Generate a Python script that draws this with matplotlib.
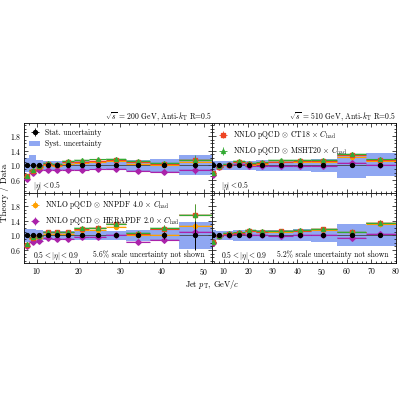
import numpy as np
import matplotlib
matplotlib.use("Agg")
from matplotlib import pyplot as plt
from matplotlib.patches import Patch
from matplotlib.ticker import MultipleLocator

plt.rcParams['font.family'] = 'serif'
plt.rcParams['font.serif'] = ['cmr10', 'DejaVu Serif']
plt.rcParams['mathtext.fontset'] = 'cm'
plt.rcParams['axes.formatter.use_mathtext'] = True

# bins / points
edges200 = [6.9, 8.2, 9.7, 11.5, 13.6, 16.1, 19.0, 22.5, 26.6, 31.4, 37.2, 44.0, 52.0]
x200 = [7.55, 8.95, 10.6, 12.55, 14.85, 17.55, 20.75, 24.55, 29.0, 34.3, 40.6, 48.0]
edges510 = [5.0, 7.0, 9.6, 13.8, 18.5, 23.0, 28.0, 38.0, 45.5, 56.0, 68.0, 80.0]
x510 = [5.6, 8.0, 12.0, 16.1, 20.5, 25.4, 33.5, 41.2, 50.5, 62.0, 73.6]
yticks = [0.6, 1.0, 1.4, 1.8]

# 200 GeV, |eta|<0.5
stat_a = [0.02, 0.02, 0.02, 0.02, 0.02, 0.02, 0.02, 0.02, 0.03, 0.03, 0.04, 0.06]
syst_lo_a = [0.82, 0.80, 0.86, 0.88, 0.88, 0.88, 0.88, 0.88, 0.88, 0.86, 0.83, 0.74]
syst_hi_a = [1.20, 1.27, 1.14, 1.12, 1.12, 1.12, 1.12, 1.12, 1.12, 1.14, 1.17, 1.28]
ct18_a = [0.70, 0.86, 0.95, 1.03, 1.00, 1.08, 1.10, 1.13, 1.15, 1.08, 1.05, 1.14]
msht_a = [0.71, 0.88, 0.97, 1.06, 1.04, 1.11, 1.14, 1.16, 1.18, 1.11, 1.07, 1.15]
nnpdf_a = [0.68, 0.84, 0.93, 1.00, 0.98, 1.05, 1.07, 1.10, 1.12, 1.05, 1.00, 1.10]
hera_a = [0.64, 0.80, 0.87, 0.87, 0.87, 0.88, 0.88, 0.89, 0.90, 0.86, 0.83, 0.88]
err_a = [0.06, 0.06, 0.05, 0.05, 0.05, 0.05, 0.05, 0.05, 0.05, 0.05, 0.06, 0.12]

# 510 GeV, |eta|<0.5
stat_b = [0.02, 0.02, 0.02, 0.02, 0.02, 0.02, 0.02, 0.02, 0.02, 0.03, 0.04]
syst_lo_b = [0.86, 0.88, 0.88, 0.87, 0.87, 0.86, 0.85, 0.85, 0.83, 0.66, 0.70]
syst_hi_b = [1.13, 1.12, 1.12, 1.13, 1.13, 1.14, 1.15, 1.15, 1.17, 1.32, 1.34]
ct18_b = [0.80, 0.95, 1.02, 1.10, 1.04, 1.06, 1.10, 1.11, 1.12, 1.27, 1.14]
msht_b = [0.79, 0.97, 1.04, 1.13, 1.06, 1.08, 1.14, 1.15, 1.15, 1.30, 1.16]
nnpdf_b = [0.77, 0.95, 1.02, 1.08, 1.02, 1.05, 1.09, 1.09, 1.09, 1.22, 1.12]
hera_b = [0.74, 0.96, 1.00, 1.05, 0.99, 0.98, 0.98, 0.98, 0.98, 1.07, 1.01]
err_b = [0.06, 0.05, 0.05, 0.05, 0.04, 0.04, 0.04, 0.04, 0.04, 0.06, 0.08]

# 200 GeV, 0.5<|eta|<0.9
stat_c = [0.02, 0.02, 0.02, 0.02, 0.02, 0.02, 0.02, 0.03, 0.03, 0.05, 0.10, 0.40]
syst_lo_c = [0.82, 0.82, 0.85, 0.88, 0.88, 0.88, 0.88, 0.88, 0.88, 0.86, 0.84, 0.62]
syst_hi_c = [1.18, 1.18, 1.15, 1.12, 1.12, 1.12, 1.12, 1.12, 1.12, 1.15, 1.16, 1.35]
ct18_c = [0.75, 0.93, 0.97, 1.08, 1.08, 1.08, 1.17, 1.20, 1.30, 1.05, 1.18, 1.55]
msht_c = [0.76, 0.95, 0.98, 1.10, 1.10, 1.10, 1.20, 1.21, 1.31, 1.07, 1.19, 1.56]
nnpdf_c = [0.70, 0.90, 0.92, 1.05, 1.05, 1.05, 1.14, 1.15, 1.24, 1.00, 1.02, 1.26]
hera_c = [0.72, 0.82, 0.85, 0.94, 0.91, 0.90, 0.96, 0.95, 1.00, 0.83, 0.88, 1.10]
err_c = [0.06, 0.06, 0.05, 0.05, 0.05, 0.05, 0.06, 0.06, 0.06, 0.06, 0.10, 0.30]

# 510 GeV, 0.5<|eta|<0.9
stat_d = [0.02, 0.02, 0.02, 0.02, 0.02, 0.02, 0.02, 0.02, 0.02, 0.03, 0.04]
syst_lo_d = [0.85, 0.87, 0.87, 0.86, 0.86, 0.86, 0.85, 0.84, 0.82, 0.70, 0.72]
syst_hi_d = [1.15, 1.13, 1.13, 1.14, 1.14, 1.14, 1.15, 1.16, 1.18, 1.30, 1.28]
ct18_d = [0.82, 0.97, 1.05, 1.07, 1.13, 1.10, 1.11, 1.13, 1.17, 1.08, 1.33]
msht_d = [0.83, 0.98, 1.06, 1.08, 1.15, 1.12, 1.13, 1.15, 1.18, 1.10, 1.34]
nnpdf_d = [0.82, 0.98, 1.05, 1.05, 1.12, 1.10, 1.10, 1.12, 1.15, 1.08, 1.30]
hera_d = [0.80, 0.97, 1.02, 1.03, 1.00, 1.00, 0.99, 1.00, 1.00, 0.92, 1.05]
err_d = [0.06, 0.05, 0.05, 0.05, 0.05, 0.04, 0.04, 0.04, 0.05, 0.06, 0.08]

col_ct18, col_msht, col_nnpdf, col_hera = '#ee4422', '#33aa33', '#ffa000', '#aa22aa'
col_syst = '#7b98f0'
FS = 5.5
MS = 2.8


def draw_panel(ax, edges, x, stat, slo, shi, theories, err, x0):
    edges = np.array(edges)
    ax.bar(edges[:-1], np.array(shi) - np.array(slo), width=np.diff(edges), bottom=slo,
           align='edge', color=col_syst, alpha=0.85, lw=0, zorder=1)
    ax.axhline(1.0, color='#444444', lw=0.6, zorder=2)
    for vals, col, m in theories:
        vals = np.array(vals)
        ax.bar(edges[:-1], 0.05, width=np.diff(edges), bottom=vals - 0.025, align='edge',
               color=col, alpha=0.25, lw=0, zorder=2)
        ax.hlines(vals, edges[:-1], edges[1:], color=col, lw=0.8, zorder=3)
        ax.errorbar(x, vals, yerr=err, fmt=m, color=col, ms=MS, elinewidth=0.6,
                    capsize=0, zorder=4)
    ax.errorbar(x, np.ones(len(x)), yerr=stat, fmt='o', color='black', ms=MS,
                elinewidth=0.7, capsize=0, zorder=5)
    ax.set_xlim(x0, edges[-1])
    ax.set_ylim(0.25, 2.15)
    ax.set_yticks(yticks)
    ax.yaxis.set_minor_locator(MultipleLocator(0.1))
    ax.xaxis.set_major_locator(MultipleLocator(10))
    ax.xaxis.set_minor_locator(MultipleLocator(2))
    ax.tick_params(which='both', direction='in', top=True, right=True, labelsize=FS, width=0.5, pad=2)
    ax.tick_params(which='major', length=3)
    ax.tick_params(which='minor', length=1.5)
    for s in ax.spines.values():
        s.set_linewidth(0.6)


fig = plt.figure(figsize=(4, 4), dpi=100)
axA = fig.add_axes([0.06, 0.5175, 0.47, 0.175])
axB = fig.add_axes([0.53, 0.5175, 0.46, 0.175])
axC = fig.add_axes([0.06, 0.3425, 0.47, 0.175])
axD = fig.add_axes([0.53, 0.3425, 0.46, 0.175])

draw_panel(axA, edges200, x200, stat_a, syst_lo_a, syst_hi_a,
           [(nnpdf_a, col_nnpdf, 'o'), (hera_a, col_hera, 'D'), (ct18_a, col_ct18, 's'), (msht_a, col_msht, '^')], err_a, 6.9)
draw_panel(axB, edges510, x510, stat_b, syst_lo_b, syst_hi_b,
           [(nnpdf_b, col_nnpdf, 'o'), (hera_b, col_hera, 'D'), (ct18_b, col_ct18, 's'), (msht_b, col_msht, '^')], err_b, 5.3)
draw_panel(axC, edges200, x200, stat_c, syst_lo_c, syst_hi_c,
           [(nnpdf_c, col_nnpdf, 'o'), (hera_c, col_hera, 'D'), (ct18_c, col_ct18, 's'), (msht_c, col_msht, '^')], err_c, 6.9)
draw_panel(axD, edges510, x510, stat_d, syst_lo_d, syst_hi_d,
           [(nnpdf_d, col_nnpdf, 'o'), (hera_d, col_hera, 'D'), (ct18_d, col_ct18, 's'), (msht_d, col_msht, '^')], err_d, 5.3)

for ax in (axA, axB):
    ax.tick_params(labelbottom=False)
for ax in (axB, axD):
    ax.tick_params(labelleft=False)

axA.set_title(r'$\sqrt{s}$ = 200 GeV, Anti-$k_{\rm T}$ R=0.5', fontsize=FS, loc='right', pad=2)
axB.set_title(r'$\sqrt{s}$ = 510 GeV, Anti-$k_{\rm T}$ R=0.5', fontsize=FS, loc='right', pad=2)

for ax in (axA, axB):
    ax.text(0.05, 0.08, r'$|\eta| < 0.5$', transform=ax.transAxes, fontsize=FS)
for ax in (axC, axD):
    ax.text(0.05, 0.08, r'$0.5 < |\eta| < 0.9$', transform=ax.transAxes, fontsize=FS)
axC.text(0.96, 0.08, '5.6% scale uncertainty not shown', transform=axC.transAxes, fontsize=FS, ha='right')
axD.text(0.96, 0.08, '5.2% scale uncertainty not shown', transform=axD.transAxes, fontsize=FS, ha='right')


def handle(ax, col, m):
    return ax.errorbar([], [], xerr=[], yerr=[], fmt=m, color=col, ms=MS, elinewidth=0.6)


leg_kw = dict(loc='upper left', fontsize=FS, frameon=False, handlelength=1.4,
              borderaxespad=0.3, labelspacing=0.4, handletextpad=0.6)
axA.legend([handle(axA, 'black', 'o'), Patch(color=col_syst, alpha=0.85, lw=0)],
           ['Stat. uncertainty', 'Syst. uncertainty'], **leg_kw)
axB.legend([handle(axB, col_ct18, 's'), handle(axB, col_msht, '^')],
           [r'NNLO pQCD $\otimes$ CT18 $\times$ $C_{\rm had}$', r'NNLO pQCD $\otimes$ MSHT20 $\times$ $C_{\rm had}$'],
           **leg_kw)
axC.legend([handle(axC, col_nnpdf, 'o'), handle(axC, col_hera, 'D')],
           [r'NNLO pQCD $\otimes$ NNPDF 4.0 $\times$ $C_{\rm had}$', r'NNLO pQCD $\otimes$ HERAPDF 2.0 $\times$ $C_{\rm had}$'],
           **leg_kw)

fig.text(0.012, 0.5175, 'Theory / Data', rotation=90, va='center', ha='center', fontsize=FS + 1)
fig.text(0.53, 0.305, r'Jet $p_{\rm T}$, GeV/$c$', ha='center', va='top', fontsize=FS + 0.5)

fig.savefig('out.png', dpi=100)
